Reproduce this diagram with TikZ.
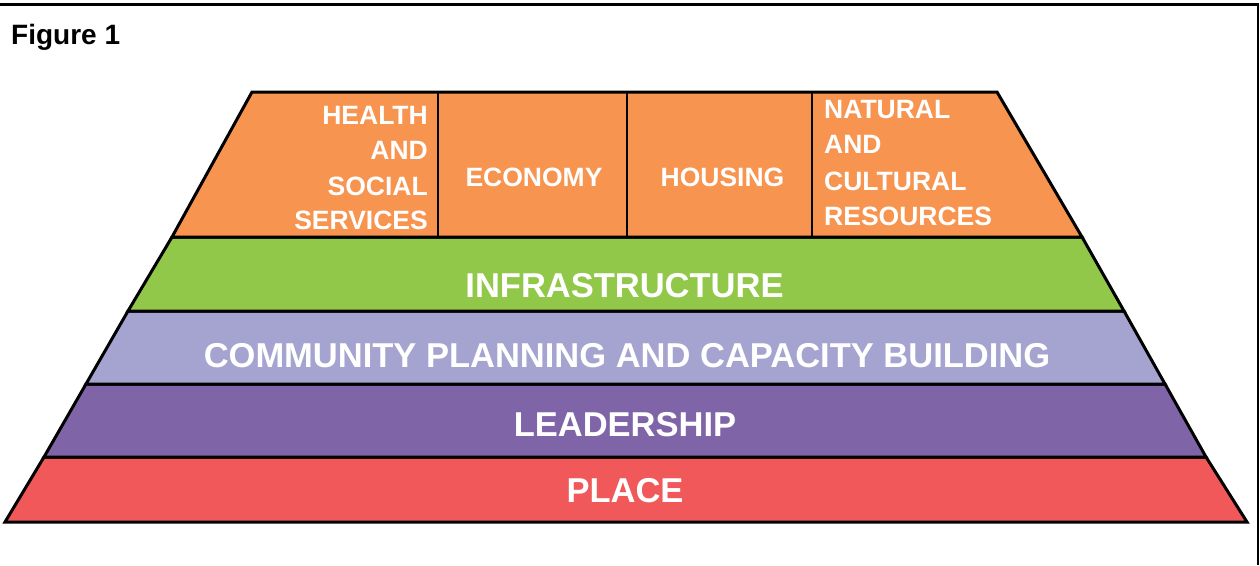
\documentclass[tikz,border=0pt]{standalone}
\usepackage{fontspec}
\setmainfont{Liberation Sans}
\definecolor{cOrange}{RGB}{247,148,80}
\definecolor{cGreen}{RGB}{146,200,74}
\definecolor{cLav}{RGB}{165,163,208}
\definecolor{cPurple}{RGB}{128,100,168}
\definecolor{cRed}{RGB}{240,88,90}
\tikzset{
  band/.style={draw=black, line width=3pt, line join=miter},
  bigtxt/.style={text=white, inner sep=0pt, anchor=base, font=\bfseries\fontsize{34.5}{36}\selectfont},
  smalltxt/.style={text=white, inner sep=0pt, font=\bfseries\fontsize{26.5}{30}\selectfont},
  divider/.style={draw=black, line width=2.5pt},
}
\begin{document}
\begin{tikzpicture}[x=1pt,y=-1pt]
\useasboundingbox (0,0) rectangle (1260,565);
% frame
\draw[line width=3pt] (0,4.2) -- (1258,4.2);
\draw[line width=2pt] (1258,3) -- (1258,565);
\node[inner sep=0pt, anchor=base west, font=\bfseries\fontsize{28}{30}\selectfont] (fig) at (11,44) {Figure 1};
% bands
\filldraw[band, fill=cRed] (44,457) -- (1206,457) -- (1247,522) -- (5,522) -- cycle;
\filldraw[band, fill=cPurple] (86,384) -- (1165,384) -- (1206,457) -- (44,457) -- cycle;
\filldraw[band, fill=cLav] (128,311) -- (1124,311) -- (1165,384) -- (86,384) -- cycle;
\filldraw[band, fill=cGreen] (172,237) -- (1082,237) -- (1124,311) -- (128,311) -- cycle;
\filldraw[band, fill=cOrange] (252,92) -- (997,92) -- (1082,237) -- (172,237) -- cycle;
% dividers
\coordinate (d1t) at (438,92); \coordinate (d1b) at (438,237);
\coordinate (d2t) at (627,92); \coordinate (d2b) at (627,237);
\coordinate (d3t) at (812,92); \coordinate (d3b) at (812,237);
\draw[divider] (d1t) -- (d1b);
\draw[divider] (d2t) -- (d2b);
\draw[divider] (d3t) -- (d3b);
% top texts
\node[smalltxt, anchor=base east] (h1) at (428,124) {HEALTH};
\node[smalltxt, anchor=base east] (h2) at (428,159) {AND};
\node[smalltxt, anchor=base east] (h3) at (428,195) {SOCIAL};
\node[smalltxt, anchor=base east] (h4) at (428,229) {SERVICES};
\node[smalltxt, anchor=base] (eco) at (534,186) {ECONOMY};
\node[smalltxt, anchor=base] (hou) at (722.5,186) {HOUSING};
\node[smalltxt, anchor=base west] (n1) at (824,118) {NATURAL};
\node[smalltxt, anchor=base west] (n2) at (824,153) {AND};
\node[smalltxt, anchor=base west] (n3) at (824,190) {CULTURAL};
\node[smalltxt, anchor=base west] (n4) at (824,225) {RESOURCES};
% big texts
\node[bigtxt] (infra) at (624.5,297) {INFRASTRUCTURE};
\node[bigtxt] (comm) at (627,367) {COMMUNITY PLANNING AND CAPACITY BUILDING};
\node[bigtxt] (lead) at (625,436) {LEADERSHIP};
\node[bigtxt] (place) at (625,502) {PLACE};
\end{tikzpicture}
\end{document}
